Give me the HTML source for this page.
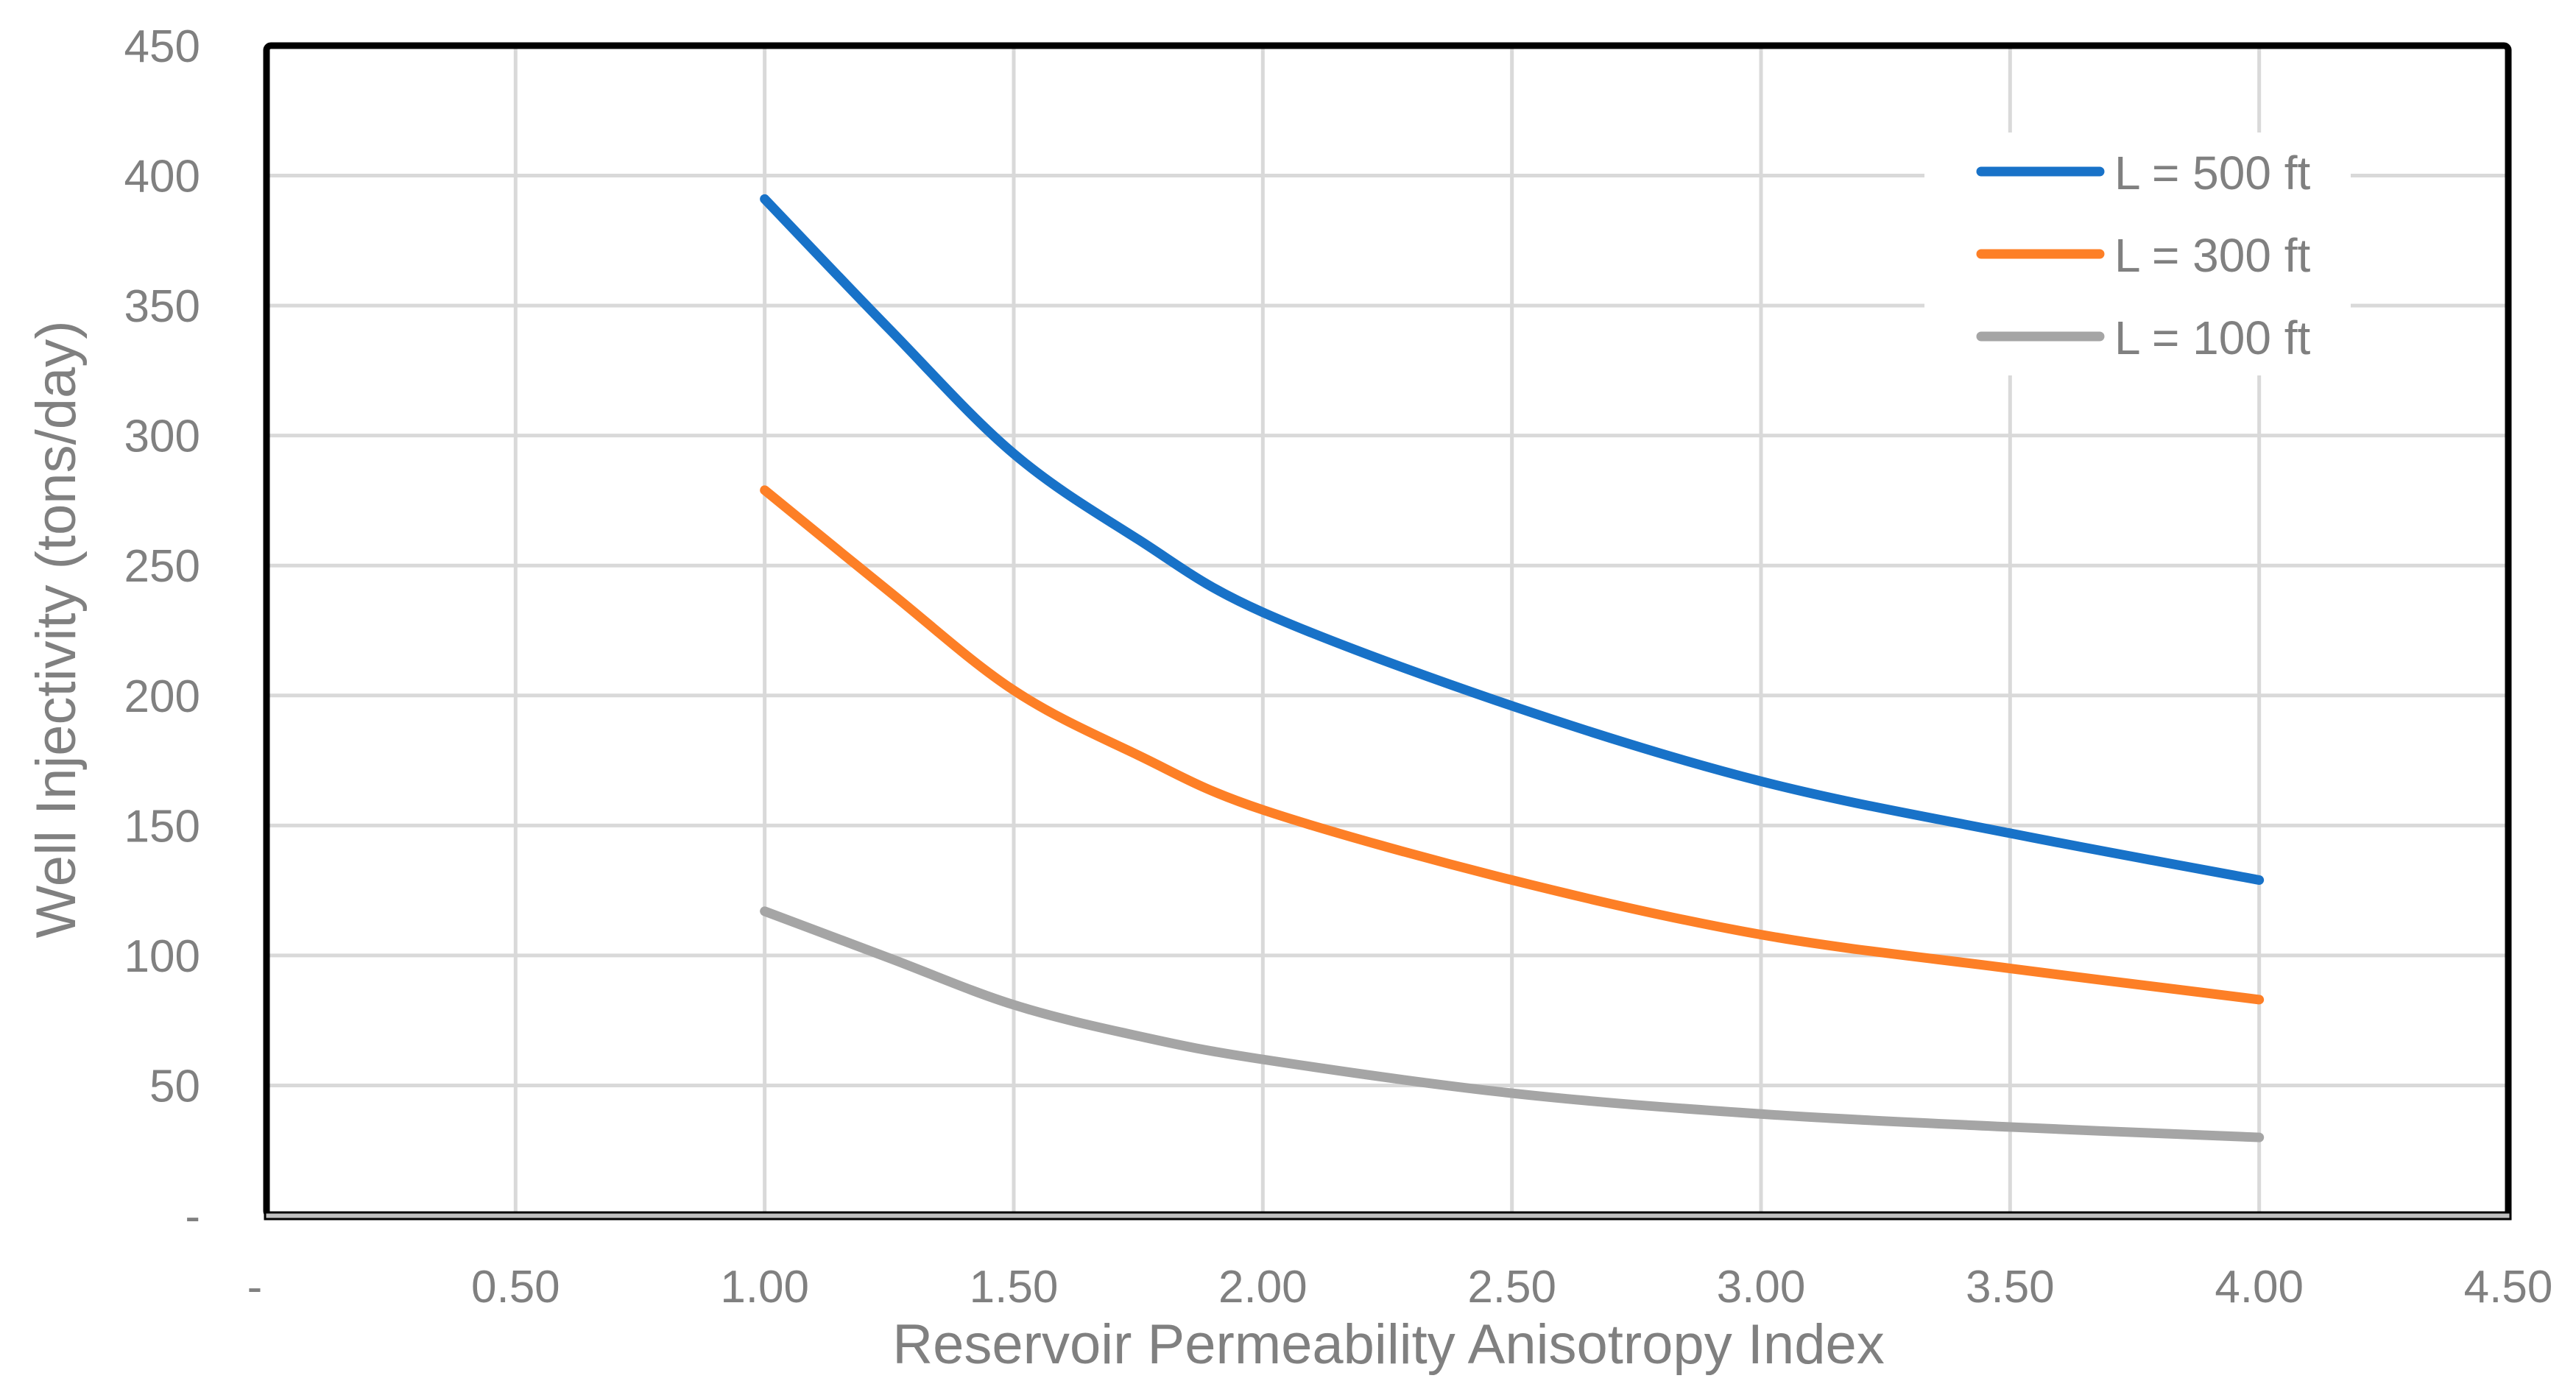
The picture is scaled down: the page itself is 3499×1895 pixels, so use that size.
<!DOCTYPE html>
<html><head><meta charset="utf-8"><style>
html,body{margin:0;padding:0;background:#fff;}
svg{display:block;}
text{font-family:"Liberation Sans",sans-serif;fill:#808080;}
</style></head><body>
<svg id="chart" width="3499" height="1895" viewBox="0 0 3499 1895" xmlns="http://www.w3.org/2000/svg">
<g id="grid"></g>
<g id="series"></g>
<rect x="2614" y="180" width="579" height="330" fill="#fff"/>
<g id="legend"></g>
<rect x="362" y="62" width="3045" height="1589" fill="none" stroke="#000" stroke-width="9" rx="6"/>
<rect x="360" y="1647" width="3050" height="9" fill="#c0c0c0" stroke="#000" stroke-width="3"/>
<g id="yticks"></g>
<g id="xticks"></g>
<text x="1886" y="1852" font-size="76" text-anchor="middle">Reservoir Permeability Anisotropy Index</text>
<text x="0" y="0" font-size="76" text-anchor="middle" transform="translate(102,855) rotate(-90)">Well Injectivity (tons/day)</text>
</svg>
<script>
const xTicks=[0,0.5,1,1.5,2,2.5,3,3.5,4,4.5];
const xTickLabels=["-","0.50","1.00","1.50","2.00","2.50","3.00","3.50","4.00","4.50"];
const yTicks=[0,50,100,150,200,250,300,350,400,450];
const yTickLabels=["-","50","100","150","200","250","300","350","400","450"];
const xValues=[1,1.25,1.5,1.75,2,2.5,3,3.5,4];
const seriesNames=["L = 500 ft","L = 300 ft","L = 100 ft"];
const seriesColors=["#1872c8","#fd7f26","#a5a5a5"];
const s500=[391,341,293,260,232,196,167,147,129];
const s300=[279,240,202,177,156,129,108,95,83];
const s100=[117,99,81,69,60,47,39,34,30];
const seriesValues=[s500,s300,s100];

const NS="http://www.w3.org/2000/svg";
const X0=362,X1=3407,Y0=1651,Y1=62;
function xs(v){return X0+(v-0)/(4.5-0)*(X1-X0);}
function ys(v){return Y0-(v-0)/(450-0)*(Y0-Y1);}
function mk(tag,attrs,parent){const e=document.createElementNS(NS,tag);for(const k in attrs)e.setAttribute(k,attrs[k]);parent.appendChild(e);return e;}
const grid=document.getElementById('grid');
xTicks.forEach((t,i)=>{if(i===0||i===xTicks.length-1)return;
 const l=mk('line',{x1:xs(t),x2:xs(t),y1:Y1,y2:Y0,stroke:'#d9d9d9','stroke-width':5},grid);
 
 });
yTicks.forEach((t,i)=>{if(i===0||i===yTicks.length-1)return;
 const l=mk('line',{x1:X0,x2:X1,y1:ys(t),y2:ys(t),stroke:'#d9d9d9','stroke-width':5},grid);
 
 });
const yt=document.getElementById('yticks');
yTicks.forEach((t,i)=>{const e=mk('text',{x:272,y:ys(t)+22,'font-size':62,'text-anchor':'end'},yt);e.textContent=yTickLabels[i];
 
 });
const xt=document.getElementById('xticks');
xTicks.forEach((t,i)=>{const e=mk('text',{x:i===0?346:xs(t),y:1769,'font-size':62,'text-anchor':'middle'},xt);e.textContent=xTickLabels[i];
 
 });
function smooth(pts){let d=`M${pts[0][0]},${pts[0][1]}`;
 for(let i=0;i<pts.length-1;i++){const p0=pts[i-1]||pts[i],p1=pts[i],p2=pts[i+1],p3=pts[i+2]||p2;
  const c1=[p1[0]+(p2[0]-p0[0])/6,p1[1]+(p2[1]-p0[1])/6],c2=[p2[0]-(p3[0]-p1[0])/6,p2[1]-(p3[1]-p1[1])/6];
  d+=` C${c1[0]},${c1[1]} ${c2[0]},${c2[1]} ${p2[0]},${p2[1]}`;}
 return d;}
const sg=document.getElementById('series');
seriesValues.forEach((vals,si)=>{const pts=xValues.map((x,i)=>[xs(x),ys(vals[i])]);
 const p=mk('path',{d:smooth(pts),fill:'none',stroke:seriesColors[si],'stroke-width':13,'stroke-linecap':'round','stroke-linejoin':'round'},sg);
 
 });
const lg=document.getElementById('legend');
const legY=[233,345,457];
seriesNames.forEach((n,i)=>{
 const l=mk('line',{x1:2691,x2:2852,y1:legY[i],y2:legY[i],stroke:seriesColors[i],'stroke-width':13,'stroke-linecap':'round'},lg);
 
 
 const t=mk('text',{x:2872,y:legY[i]+24,'font-size':64},lg);t.textContent=n;
 
 });
</script>
</body></html>
